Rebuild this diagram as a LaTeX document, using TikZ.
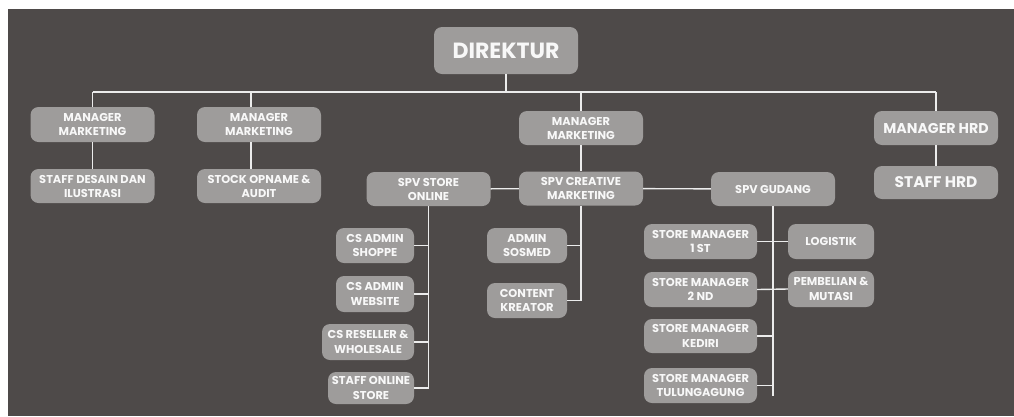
\documentclass[tikz,border=0pt]{standalone}
\usepackage{fontspec}
\setmainfont{Poppins}
\usetikzlibrary{positioning}
\definecolor{bgdark}{RGB}{78,74,73}
\definecolor{boxgray}{RGB}{158,156,155}
\definecolor{textwhite}{RGB}{248,248,248}
\definecolor{linewhite}{RGB}{236,236,236}

\begin{document}
\begin{tikzpicture}[x=1pt,y=-1pt,
  box/.style={fill=boxgray,rounded corners=8pt,minimum width=124pt,minimum height=34pt,
    align=center,text=textwhite,inner sep=2pt,font=\bfseries\fontsize{11.4}{14}\selectfont},
  small/.style={box,minimum width=78pt,minimum height=35pt,font=\bfseries\fontsize{11.4}{14.6}\selectfont},
  link/.style={draw=linewhite,line width=1.4pt},
]
  \useasboundingbox (0,0) rectangle (1014,416);
  \fill[white] (0,0) rectangle (1014,416);
  \fill[bgdark] (8,9) rectangle (1014,416);

  % top level
  \node[box,minimum width=144pt,minimum height=47pt,font=\bfseries\fontsize{22}{26}\selectfont] (dir) at (506,50.5) {DIREKTUR};
  \coordinate (bus) at (0,92);

  % managers
  \node[box,minimum height=35pt] (mmA) at (92.5,124.5) {MANAGER\\MARKETING};
  \node[box,minimum height=35pt] (mmB) at (259,124.5) {MANAGER\\MARKETING};
  \node[box] (mmC) at (581,128) {MANAGER\\MARKETING};
  \node[box,font=\bfseries\fontsize{14.2}{17}\selectfont] (mhrd) at (936,128) {MANAGER HRD};

  \node[box] (sdi) at (92.5,186) {STAFF DESAIN DAN\\ILUSTRASI};
  \node[box] (soa) at (259,186) {STOCK OPNAME \&\\AUDIT};
  \node[box,minimum height=33pt,font=\bfseries\fontsize{15.4}{18}\selectfont] (shrd) at (936,182.5) {STAFF HRD};

  % supervisors
  \node[box] (sso) at (428.5,189) {SPV STORE\\ONLINE};
  \node[box] (scm) at (581,188.5) {SPV CREATIVE\\MARKETING};
  \node[box] (sg) at (773,189) {SPV GUDANG};

  % store online staff
  \node[small] (csas) at (375,245.5) {CS ADMIN\\SHOPPE};
  \node[small,minimum height=36pt] (csaw) at (375,294) {CS ADMIN\\WEBSITE};
  \node[small,minimum width=92pt,minimum height=36pt] (csrw) at (368,342) {CS RESELLER \&\\WHOLESALE};
  \node[small,minimum width=86pt,minimum height=32pt] (sos) at (371,388) {STAFF ONLINE\\STORE};

  % creative staff
  \node[small,minimum width=80pt] (adm) at (527,245.5) {ADMIN\\SOSMED};
  \node[small,minimum width=80pt] (ck) at (527,300.5) {CONTENT\\KREATOR};

  % gudang staff
  \node[small,minimum width=113pt] (smA) at (700.5,241.5) {STORE MANAGER\\1 ST};
  \node[small,minimum width=113pt] (smB) at (700.5,289.5) {STORE MANAGER\\2 ND};
  \node[small,minimum width=113pt,minimum height=34pt] (smK) at (700.5,336) {STORE MANAGER\\KEDIRI};
  \node[small,minimum width=113pt] (smT) at (700.5,385.5) {STORE MANAGER\\TULUNGAGUNG};
  \node[small,minimum width=86pt] (log) at (831,241.5) {LOGISTIK};
  \node[small,minimum width=86pt,minimum height=36pt] (pm) at (831,289) {PEMBELIAN \&\\MUTASI};
  \coordinate (sgend) at (773,396);

  % connectors
  \draw[link] (bus -| mmA) -- (bus -| mhrd);
  \draw[link] (dir.south) -- (dir.south |- bus);
  \foreach \m in {mmA,mmC,mhrd}
    \draw[link] (\m.north) -- (\m.north |- bus);
  \draw[link] ([xshift=-8pt]mmB.north) -- ([xshift=-8pt]mmB.north |- bus);
  \draw[link] (mmA) -- (sdi);
  \draw[link] ([xshift=-8pt]mmB.south) -- ([xshift=-8pt]soa.north);
  \draw[link] (mhrd) -- (shrd);
  \draw[link] (mmC) -- (scm);
  \draw[link] (sso) -- (scm) -- (sg);

  \draw[link] (sso.south) -- (sso.south |- sos.east);
  \foreach \s in {csas,csaw,csrw,sos}
    \draw[link] (\s.east) -- (\s.east -| sso);

  \draw[link] (scm.south) |- (ck.east);
  \draw[link] (adm.east) -- (adm.east -| scm);

  \draw[link] (sg.south) -- (sgend);
  \draw[link] (smA.east) -- (log.west);
  \draw[link] (smB.east) -- (pm.west);
  \foreach \s in {smK,smT}
    \draw[link] (\s.east) -- (\s.east -| sg);
\end{tikzpicture}
\end{document}
